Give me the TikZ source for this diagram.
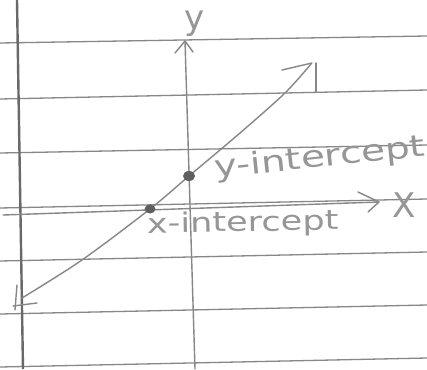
\documentclass[tikz,border=0pt]{standalone}
\usepackage{fontspec}
\setmainfont{DejaVu Sans}
\definecolor{pencil}{RGB}{135,135,135}
\definecolor{papergray}{RGB}{135,135,135}
\definecolor{margingray}{RGB}{105,105,105}
\definecolor{dotgray}{RGB}{95,95,95}
\definecolor{writing}{RGB}{150,150,150}
\begin{document}
\begin{tikzpicture}[x=1pt,y=-1pt,
  paperline/.style={papergray,line width=1.3pt},
  marginline/.style={margingray,line width=2.4pt},
  pencilline/.style={pencil,line width=1.4pt,line cap=round,line join=round},
  dotmark/.style={fill=dotgray,draw=none},
  handtext/.style={writing,inner sep=0pt,font=\fontsize{#1}{#1}\selectfont},
  handtext/.default=30]
\useasboundingbox (0,0) rectangle (427,369);
\fill[white] (0,0) rectangle (427,369);
% ruled paper
\foreach \l/\r in {43/36, 99/90, 153/145, 208/199, 261/252, 314/305, 367/358}
  \draw[paperline] (0,\l) -- (427,\r);
\draw[marginline] (17,0) -- (23,369);
% named points
\coordinate (ybot) at (195,369);
\coordinate (ytop) at (185,41);
\coordinate (xleft) at (3,215);
\coordinate (xright) at (379,202);
\coordinate (lstart) at (22,298);
\coordinate (lend) at (311,64);
\coordinate (yint) at (189,176);
\coordinate (xint) at (150,209);
% y-axis
\draw[pencilline] (ybot) -- (ytop);
\draw[pencilline] (175,53) -- (ytop) -- (193,52);
% x-axis
\draw[pencilline] (xleft) -- (xright);
\draw[pencilline] (358,192) -- (xright) -- (368,212);
% the line
\draw[pencilline] plot[smooth, tension=0.5] coordinates {(lstart) (82,260) (xint) (yint) (240,133) (285,93) (lend)};
\draw[pencilline] (282,70) -- (312,63);
\draw[pencilline] (316,63) -- (316,92);
\draw[pencilline] (17,285) -- (15,310);
\draw[pencilline] (13,306) -- (37,303);
% intercept dots
\fill[dotmark] (yint) ellipse [x radius=6pt, y radius=5pt];
\fill[dotmark] (xint) ellipse [x radius=5.5pt, y radius=4.5pt];
% labels
\node[handtext=34] (ylabel) at (195,24) {y};
\node[handtext=34] (xlabel) at (404,205) {X};
\node[handtext=30, anchor=base west, rotate=6] (yintlabel) at (215,178) {\scalebox{1.3}[1]{y-intercept}};
\node[handtext=27, anchor=base west, rotate=1] (xintlabel) at (147,233) {\scalebox{1.3}[1]{x-intercept}};
\end{tikzpicture}
\end{document}
